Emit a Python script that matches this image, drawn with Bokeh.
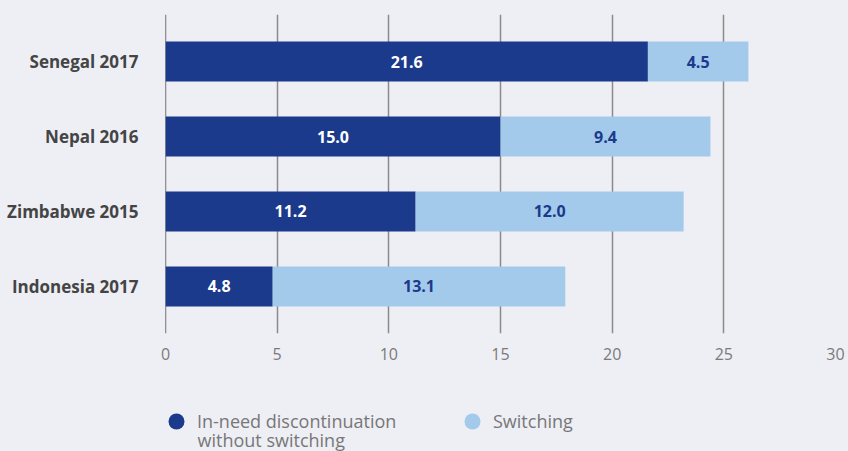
from bokeh.plotting import figure
from bokeh.layouts import column
from bokeh.models import ColumnDataSource, Span, Legend, LegendItem, FixedTicker, Range1d, Label
from bokeh.core.properties import value
from bokeh.embed import file_html
from bokeh.resources import INLINE

categories = ["Senegal 2017", "Nepal 2016", "Zimbabwe 2015", "Indonesia 2017"]
in_need = [21.6, 15.0, 11.2, 4.8]
switching = [4.5, 9.4, 12.0, 13.1]
x_ticks = [0, 5, 10, 15, 20, 25, 30]
series_names = ["In-need discontinuation", "Switching"]
series_name_2nd_line = "without switching"

DARK = "#1b3a8b"
LIGHT = "#a3c9eb"
BG = "#eeeef5"
FONT = "Open Sans"

n = len(categories)
ypos = [n - 1 - i for i in range(n)]
totals = [a + b for a, b in zip(in_need, switching)]
mid_a = [a / 2 for a in in_need]
mid_b = [a + b / 2 for a, b in zip(in_need, switching)]

src = ColumnDataSource(dict(
    y=ypos, a=in_need, b=switching, tot=totals, ma=mid_a, mb=mid_b,
    la=["%.1f" % v for v in in_need], lb=["%.1f" % v for v in switching],
))

p = figure(width=848, height=390, output_backend="svg", toolbar_location=None,
           x_range=Range1d(0, 30), y_range=Range1d(-0.627, 3.627),
           min_border_left=165, min_border_right=13, min_border_top=14, min_border_bottom=57)
p.background_fill_color = BG
p.border_fill_color = BG
p.outline_line_color = None

p.hbar(y="y", left=0, right="a", height=0.533, source=src, fill_color=DARK, line_color=None)
p.hbar(y="y", left="a", right="tot", height=0.533, source=src, fill_color=LIGHT, line_color=None)

p.text(x="ma", y="y", text="la", source=src, text_align="center", text_baseline="middle",
       text_color="white", text_font=value(FONT), text_font_style="bold", text_font_size="16px")
p.text(x="mb", y="y", text="lb", source=src, text_align="center", text_baseline="middle",
       text_color=DARK, text_font=value(FONT), text_font_style="bold", text_font_size="16px")

# grid
p.xgrid.ticker = FixedTicker(ticks=x_ticks)
p.xgrid.grid_line_color = "#8a8a8a"
p.xgrid.grid_line_width = 1.5
p.ygrid.visible = False
p.add_layout(Span(location=0, dimension="height", line_color="#333333", line_width=1.3, level="underlay"))

# axes
xa = p.xaxis[0]
xa.ticker = FixedTicker(ticks=x_ticks)
xa.axis_line_color = None
xa.major_tick_line_color = None
xa.minor_tick_line_color = None
xa.major_tick_out = 0
xa.major_label_standoff = 14
xa.major_label_text_font = FONT
xa.major_label_text_font_size = "16px"
xa.major_label_text_color = "#7a7a7a"

ya = p.yaxis[0]
ya.ticker = FixedTicker(ticks=ypos)
ya.major_label_overrides = {y: c for y, c in zip(ypos, categories)}
ya.axis_line_color = None
ya.major_tick_line_color = None
ya.minor_tick_line_color = None
ya.major_tick_out = 0
ya.major_label_standoff = 27
ya.major_label_text_font = FONT
ya.major_label_text_font_style = "bold"
ya.major_label_text_font_size = "17px"
ya.major_label_text_color = "#444444"

# legend strip (its frame is aligned with the chart frame by the column layout)
lg = figure(width=848, height=61, output_backend="svg", toolbar_location=None,
            x_range=Range1d(0, 1), y_range=Range1d(0, 1),
            min_border_left=165, min_border_right=13, min_border_top=0, min_border_bottom=0)
lg.axis.visible = False
lg.grid.visible = False
lg.background_fill_color = None
lg.border_fill_color = None
lg.outline_line_color = None

nan = float("nan")
r1 = lg.scatter(x=[nan], y=[nan], size=16, marker="circle", fill_color=DARK, line_color=None)
r2 = lg.scatter(x=[nan], y=[nan], size=16, marker="circle", fill_color=LIGHT, line_color=None)
legend = Legend(items=[LegendItem(label=series_names[0], renderers=[r1]),
                       LegendItem(label=series_names[1], renderers=[r2])],
                orientation="horizontal", location=(-9, 10), padding=0, margin=0,
                border_line_color=None, background_fill_alpha=0,
                glyph_width=40, glyph_height=40, label_height=40, label_width=255,
                label_standoff=1, spacing=0,
                label_text_font=FONT, label_text_font_size="18px", label_text_color="#777777")
lg.add_layout(legend, "center")
lg.add_layout(Label(x=32, y=12, x_units="screen", y_units="screen", text=series_name_2nd_line,
                    text_baseline="middle", text_font=FONT, text_font_size="18px",
                    text_color="#777777"))

layout = column(p, lg, spacing=0, styles={"background-color": BG})
open("out.html", "w").write(file_html(layout, INLINE))
